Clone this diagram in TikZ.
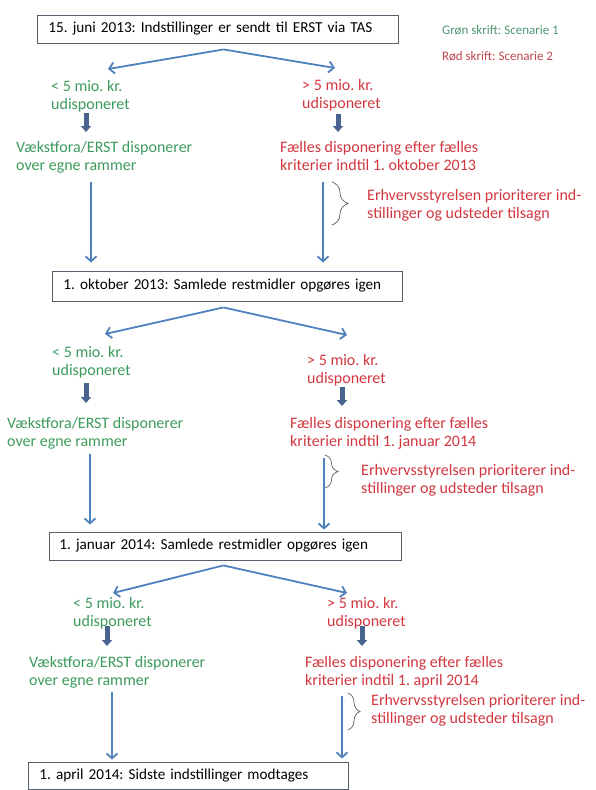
\documentclass[tikz,border=0pt]{standalone}
\usepackage{fontspec}
\setmainfont{Carlito}
\usetikzlibrary{arrows.meta, calc, decorations.pathreplacing}
\definecolor{pilblaa}{HTML}{4F81BD}
\definecolor{blokblaa}{HTML}{47638E}
\definecolor{boksgraa}{HTML}{56606C}
\definecolor{scengroen}{HTML}{3C9A5C}
\definecolor{scenroed}{HTML}{D2363F}
\definecolor{leggroen}{HTML}{4E9672}
\definecolor{legroed}{HTML}{BF4550}
\newcommand{\tekst}{\fontsize{16}{18.5}\selectfont}
\newcommand{\bokstekst}{\fontsize{15.2}{18}\selectfont}
\newcommand{\lilletekst}{\fontsize{13}{16}\selectfont}
\frenchspacing

\begin{document}
\begin{tikzpicture}[x=1pt, y=-1pt,
      boks/.style={draw=boksgraa, line width=0.9pt, anchor=west, align=left,
        font=\bokstekst, inner xsep=11pt, inner ysep=0pt},
      groen/.style={text=scengroen, anchor=north west, align=left, inner sep=0pt, font=\tekst},
      roed/.style={text=scenroed, anchor=north west, align=left, inner sep=0pt, font=\tekst},
      leg/.style={anchor=west, inner sep=0pt, font=\lilletekst},
      pil/.style={-{Straight Barb[length=5pt, width=11pt]}, pilblaa, line width=1.8pt},
      blok/.style={-{Triangle[length=6pt, width=10pt]}, blokblaa, line width=5pt},
      klamme/.style={decorate, decoration={brace}, draw=boksgraa, line width=0.7pt}]
    \useasboundingbox (0,0) rectangle (595,790);

    % forklaring
    \node[leg, text=leggroen] (lg) at (442,30) {Grøn skrift: Scenarie 1};
    \node[leg, text=legroed] (lr) at (442,56) {Rød skrift: Scenarie 2};

    % 15. juni 2013
    \node[boks, text width=339pt, minimum height=28pt] (b1) at (37,29) {15. juni 2013: Indstillinger er sendt til ERST via TAS};
    \node[groen] (lA) at (51,80) {< 5 mio. kr.\\udisponeret};
    \node[roed] (rA) at (302,79) {> 5 mio. kr.\\udisponeret};
    \node[groen] (vA) at (16,141) {Vækstfora/ERST disponerer\\over egne rammer};
    \node[roed] (fA) at (280,141) {Fælles disponering efter fælles\\kriterier indtil 1. oktober 2013};
    \node[roed] (eA) at (367,189) {Erhvervsstyrelsen prioriterer ind-\\stillinger og udsteder tilsagn};
    \node[boks, text width=328pt, minimum height=30pt] (b2) at (52,286) {1. oktober 2013: Samlede restmidler opgøres igen};

    \coordinate (gA) at ([xshift=5.5pt, yshift=-6pt]b1.south);
    \draw[pil] (gA) -- ($(lA.north west)+(57,-11)$);
    \draw[pil] (gA) -- ($(rA.north west)+(33,-11)$);
    \draw[blok, shorten <=0.5pt, shorten >=9pt] (lA.south -| 86,0) -- (vA.north -| 86,0);
    \draw[blok, shorten <=2.5pt, shorten >=9pt] (rA.south -| 338,0) -- (fA.north -| 338,0);
    \draw[pil, shorten <=8pt, shorten >=8pt] (vA.south -| 91,0) -- (b2.north -| 91,0);
    \draw[pil, shorten <=11pt, shorten >=8pt] (fA.south -| 323,0) -- (b2.north -| 323,0);
    \draw[klamme, decoration={amplitude=16pt}] (332,182) -- (332,225);

    % 1. oktober 2013
    \node[groen] (lB) at (52,346) {< 5 mio. kr.\\udisponeret};
    \node[roed] (rB) at (307,354) {> 5 mio. kr.\\udisponeret};
    \node[groen] (vB) at (7,417) {Vækstfora/ERST disponerer\\over egne rammer};
    \node[roed] (fB) at (290,417) {Fælles disponering efter fælles\\kriterier indtil 1. januar 2014};
    \node[roed] (eB) at (361,464) {Erhvervsstyrelsen prioriterer ind-\\stillinger og udsteder tilsagn};
    \node[boks, text width=332pt, inner xsep=10pt, minimum height=28pt] (b3) at (49,546) {1. januar 2014: Samlede restmidler opgøres igen};

    \coordinate (gB) at ([xshift=-4pt, yshift=-6pt]b2.south);
    \draw[pil] (gB) -- ($(lB.north west)+(53,-12)$);
    \draw[pil] (gB) -- ($(rB.north west)+(40,-19)$);
    \draw[blok, shorten <=4.5pt, shorten >=14pt] (lB.south -| 86,0) -- (vB.north -| 86,0);
    \draw[blok, shorten <=0.5pt, shorten >=11pt] (rB.south -| 342,0) -- (fB.north -| 342,0);
    \draw[pil, shorten <=4.5pt, shorten >=7pt] (vB.south -| 90,0) -- (b3.north -| 90,0);
    \draw[pil, shorten <=8.5pt, shorten >=2pt] (fB.south -| 324,0) -- (b3.north -| 324,0);
    \draw[klamme, decoration={amplitude=13pt}] (325,455) -- (325,488);

    % 1. januar 2014
    \node[groen] (lC) at (73,597) {< 5 mio. kr.\\udisponeret};
    \node[roed] (rC) at (327,597) {> 5 mio. kr.\\udisponeret};
    \node[groen] (vC) at (29,656) {Vækstfora/ERST disponerer\\over egne rammer};
    \node[roed] (fC) at (305,656) {Fælles disponering efter fælles\\kriterier indtil 1. april 2014};
    \node[roed] (eC) at (371,694) {Erhvervsstyrelsen prioriterer ind-\\stillinger og udsteder tilsagn};
    \node[boks, text width=298pt, minimum height=27pt] (b4) at (28,775.5) {1. april 2014: Sidste indstillinger modtages};

    \coordinate (gC) at ([xshift=-2pt, yshift=-5pt]b3.south);
    \draw[pil] (gC) -- ($(lC.north west)+(40,-4)$);
    \draw[pil] (gC) -- ($(rC.north west)+(20,-4)$);
    \draw[blok, shorten <=-3.5pt, shorten >=10pt] (lC.south -| 107,0) -- (vC.north -| 107,0);
    \draw[blok, shorten <=-3.5pt, shorten >=10pt] (rC.south -| 362,0) -- (fC.north -| 362,0);
    \draw[pil, shorten <=3.5pt, shorten >=2pt] (vC.south -| 112,0) -- (b4.north -| 112,0);
    \draw[pil, shorten <=7.5pt, shorten >=3pt] (fC.south -| 342,0) -- (b4.north -| 342,0);
    \draw[klamme, decoration={amplitude=12pt}] (348,693) -- (348,730);
  \end{tikzpicture}
\end{document}
